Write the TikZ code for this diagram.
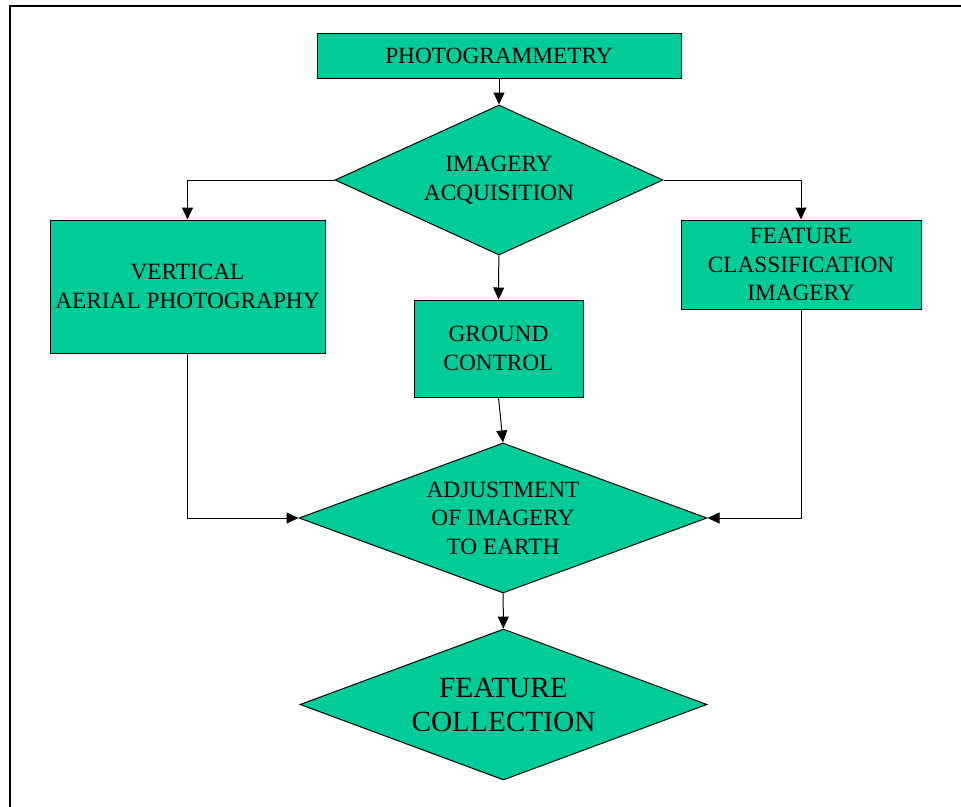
\documentclass[tikz,border=0pt]{standalone}
\usepackage{fontspec}
\setmainfont{Liberation Serif}
\usepackage{tikz}
\usetikzlibrary{shapes.geometric, arrows.meta}

\definecolor{photogreen}{RGB}{0,204,153}

\begin{document}
\begin{tikzpicture}[
    x=1pt, y=-1pt,
    >={Triangle[length=12pt, width=11pt]},
    line width=1pt,
    box/.style={draw, rectangle, fill=photogreen, inner sep=0pt, align=center, font=\fontsize{23.3}{28.5}\selectfont},
    decision/.style={draw, diamond, fill=photogreen, inner sep=0pt, align=center, font=\fontsize{23.3}{28.5}\selectfont},
    bigdecision/.style={decision, font=\fontsize{29.3}{34}\selectfont}
]
    \useasboundingbox (0,0) rectangle (961,806);

    % Frame
    \draw[line width=2pt] (10,812) |- (968,5.7);

    % Top
    \node[box, minimum width=364, minimum height=45] (photo) at (499,55.5) {PHOTOGRAMMETRY};
    \node[decision, aspect=2.19, minimum width=328, minimum height=150] (imagery) at (499,180) {IMAGERY\\ACQUISITION};

    % Middle row
    \node[box, minimum width=275, minimum height=133] (vertical) at (187.5,286.5) {VERTICAL\\AERIAL PHOTOGRAPHY};
    \node[box, minimum width=169, minimum height=97] (ground) at (498.5,348.5) {GROUND\\CONTROL};
    \node[box, minimum width=240, minimum height=89] (featclass) at (801,264.5) {FEATURE\\CLASSIFICATION\\IMAGERY};

    % Bottom
    \node[decision, aspect=2.72, minimum width=408, minimum height=150] (adjust) at (503,518) {ADJUSTMENT\\OF IMAGERY\\TO EARTH};
    \node[bigdecision, aspect=2.7, minimum width=407, minimum height=151] (collection) at (503.5,704.5) {FEATURE\\COLLECTION};

    \draw[->] (photo) -- (imagery);
    \draw[->] (imagery.west) -| (vertical.north);
    \draw[->] (imagery.east) -| (featclass.north);
    \draw[->] (imagery) -- (ground);
    \draw[->] (ground.south) -- (adjust.north);
    \draw[->] (vertical.south) |- (adjust.west);
    \draw[->] (featclass.south) |- (adjust.east);
    \draw[->] (adjust) -- (collection);

\end{tikzpicture}
\end{document}
